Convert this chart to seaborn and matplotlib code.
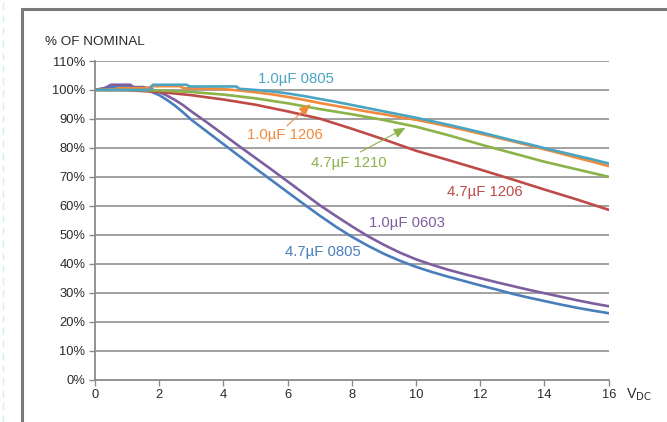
import seaborn as sns
import matplotlib.pyplot as plt
import pandas as pd

# capacitance vs DC bias
v_0805_1u = [0, 1.7, 1.8, 2.85, 2.95, 4.4, 4.5, 5, 5.5, 6, 6.5, 7, 7.5, 8, 8.5, 9, 9.5, 10,
             10.5, 11, 11.5, 12, 12.5, 13, 13.5, 14, 14.5, 15, 15.5, 16]
c_0805_1u = [100, 100, 101.8, 101.8, 101.2, 101.2, 100.4, 100, 99.5, 98.8, 97.9, 96.9, 95.9,
             94.8, 93.7, 92.6, 91.5, 90.4, 89.2, 88, 86.7, 85.4, 84, 82.6, 81.3, 79.9, 78.6,
             77.3, 76, 74.6]

v_1206_1u = [0, 0.6, 0.7, 1.6, 1.8, 2.65, 2.75, 4, 4.5, 5, 5.5, 6, 6.5, 7, 7.5, 8, 8.5, 9,
             9.5, 10, 10.5, 11, 11.5, 12, 12.5, 13, 13.5, 14, 14.5, 15, 15.5, 16]
c_1206_1u = [100, 100, 100.6, 100.6, 101.3, 101.3, 100.6, 100.3, 99.8, 99.2, 98.5, 97.6, 96.6,
             95.5, 94.5, 93.5, 92.5, 91.6, 90.6, 89.7, 88.6, 87.4, 86.2, 84.9, 83.6, 82.3,
             80.9, 79.5, 78.1, 76.6, 75.2, 73.7]

v_1210_47u = [0, 1, 2, 3, 4, 5, 6, 7, 8, 9, 10, 11, 12, 13, 14, 15, 16]
c_1210_47u = [100, 100, 99.8, 99.3, 98.4, 97.1, 95.4, 93.4, 91.6, 89.6, 87.3, 84.4, 81.2,
              78.2, 75.2, 72.6, 70]

v_1206_47u = [0, 1, 2, 3, 4, 5, 6, 7, 8, 9, 10, 11, 12, 13, 14, 15, 16]
c_1206_47u = [100, 99.9, 99.3, 98.2, 96.7, 94.9, 92.6, 90.1, 86.6, 82.9, 79, 75.8, 72.5,
              69.1, 65.6, 62.2, 58.6]

v_0603_1u = [0, 0.3, 0.5, 1.1, 1.2, 1.5, 1.75, 2, 2.25, 2.5, 2.75, 3, 3.5, 4, 4.5, 5, 5.5,
             6, 6.5, 7, 7.5, 8, 8.5, 9, 9.5, 10, 10.5, 11, 11.5, 12, 12.5, 13, 13.5, 14,
             14.5, 15, 15.5, 16]
c_0603_1u = [100, 100.6, 101.8, 101.8, 101, 101, 100.3, 99.3, 98, 96.5, 94.7, 92.6, 88.7,
             84.6, 80.5, 76.5, 72.5, 68.4, 64.3, 60.2, 56.5, 52.9, 49.5, 46.5, 43.8, 41.5,
             39.6, 37.9, 36.4, 35, 33.6, 32.3, 31, 29.8, 28.6, 27.4, 26.3, 25.3]

v_0805_47u = [0, 0.2, 0.4, 1.25, 1.5, 1.75, 2, 2.25, 2.5, 2.75, 3, 3.5, 4, 4.5, 5, 5.5, 6,
              6.5, 7, 7.5, 8, 8.5, 9, 9.5, 10, 10.5, 11, 11.5, 12, 12.5, 13, 13.5, 14,
              14.5, 15, 15.5, 16]
c_0805_47u = [100, 100.4, 100.9, 100.9, 100.2, 99.4, 98.2, 96.5, 94.5, 92.2, 89.7, 85.5,
              81.3, 77.1, 72.9, 68.8, 64.7, 60.6, 56.6, 52.8, 49.3, 46.2, 43.4, 41, 38.9,
              37.1, 35.5, 34, 32.5, 31.1, 29.6, 28.3, 27.1, 25.9, 24.8, 23.8, 22.9]

series = {
    "4.7µF 0805": (v_0805_47u, c_0805_47u),
    "1.0µF 0603": (v_0603_1u, c_0603_1u),
    "4.7µF 1206": (v_1206_47u, c_1206_47u),
    "4.7µF 1210": (v_1210_47u, c_1210_47u),
    "1.0µF 1206": (v_1206_1u, c_1206_1u),
    "1.0µF 0805": (v_0805_1u, c_0805_1u),
}
colors = {
    "4.7µF 0805": "#4a7ebb",
    "1.0µF 0603": "#7d5fa0",
    "4.7µF 1206": "#be4b48",
    "4.7µF 1210": "#8cb24a",
    "1.0µF 1206": "#f08a3c",
    "1.0µF 0805": "#4aa5c2",
}

rows = []
for name, (vs, cs) in series.items():
    for v, c in zip(vs, cs):
        rows.append({"V": v, "pct": c, "part": name})
df = pd.DataFrame(rows)

sns.set_style("white")
plt.rcParams['font.family'] = ['Liberation Sans', 'DejaVu Sans']

fig = plt.figure(figsize=(6.67, 4.22), dpi=100)
ax = fig.add_axes([95 / 667, 1 - 379.5 / 422, (608.7 - 95) / 667, (379.5 - 61) / 422])

for y in range(10, 111, 10):
    ax.axhline(y, color="#9a9a9a", lw=1.3, zorder=0)

sns.lineplot(data=df, x="V", y="pct", hue="part", palette=colors,
             hue_order=list(series.keys()), lw=1.9, legend=False, ax=ax,
             estimator=None, sort=True)

ax.set_xlim(0, 16)
ax.set_ylim(0, 110)
ax.set_xticks(range(0, 17, 2))
ax.set_yticks(range(0, 111, 10))
ax.set_yticklabels([f"{t}%" for t in range(0, 111, 10)])
ax.set_xlabel("")
ax.set_ylabel("")
for s in ["top", "right"]:
    ax.spines[s].set_visible(False)
for s in ["left", "bottom"]:
    ax.spines[s].set_color("#8a8a8a")
    ax.spines[s].set_linewidth(1.3)
ax.tick_params(axis="both", direction="out", length=4, width=1, color="#8a8a8a",
               labelsize=9.3, labelcolor="#2a2a2a", pad=3, left=True, bottom=True)

lab_kw = dict(fontsize=10.7, ha="center", va="center")
ax.text(6.25, 103.8, "1.0µF 0805", color=colors["1.0µF 0805"], **lab_kw)
ax.text(5.9, 84.4, "1.0µF 1206", color=colors["1.0µF 1206"], **lab_kw)
ax.text(7.91, 74.7, "4.7µF 1210", color=colors["4.7µF 1210"], **lab_kw)
ax.text(12.15, 64.7, "4.7µF 1206", color=colors["4.7µF 1206"], **lab_kw)
ax.text(9.73, 54.0, "1.0µF 0603", color=colors["1.0µF 0603"], **lab_kw)
ax.text(7.11, 44.1, "4.7µF 0805", color=colors["4.7µF 0805"], **lab_kw)

ax.annotate("", xy=(6.71, 95.1), xytext=(5.98, 87.6),
            arrowprops=dict(arrowstyle="-|>,head_length=0.7,head_width=0.3",
                            color=colors["1.0µF 1206"], lw=0.8, shrinkA=0, shrinkB=0))
ax.annotate("", xy=(9.67, 86.9), xytext=(8.27, 78.6),
            arrowprops=dict(arrowstyle="-|>,head_length=0.7,head_width=0.3",
                            color=colors["4.7µF 1210"], lw=0.8, shrinkA=0, shrinkB=0))

fig.text(45 / 667, 1 - 42 / 422, "% OF NOMINAL", fontsize=9.7, color="#2a2a2a",
         ha="left", va="center")
fig.text(626 / 667, 1 - 395 / 422, "V$_{\\mathrm{DC}}$", fontsize=10.3, color="#2a2a2a",
         ha="left", va="center")

# outer frame and the faint dashed guide on the far left
fig.add_artist(plt.Line2D([22 / 667, 1], [1 - 9 / 422, 1 - 9 / 422], color="#7a7a7a", lw=2.2,
                          transform=fig.transFigure))
fig.add_artist(plt.Line2D([22 / 667, 22 / 667], [0, 1 - 9 / 422], color="#7a7a7a", lw=2.2,
                          transform=fig.transFigure))
fig.add_artist(plt.Line2D([3 / 667, 3 / 667], [0, 1], color="#d6f2d6", lw=1.0, ls=(0, (5, 4)),
                          transform=fig.transFigure))

plt.savefig("out.png", dpi=100)
plt.close()
